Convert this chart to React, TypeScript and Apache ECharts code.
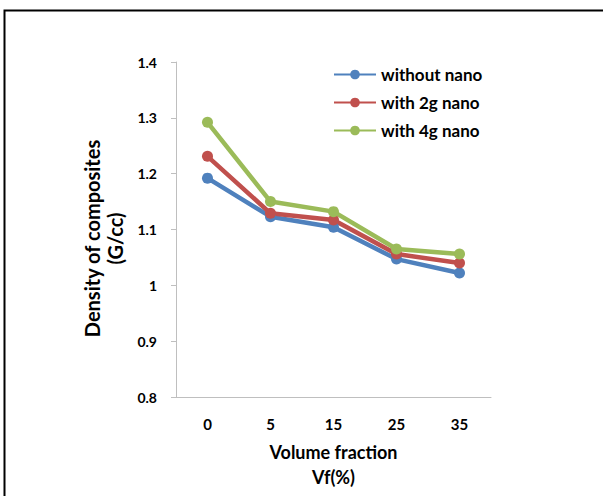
import React, { useEffect, useRef } from "react";
import * as echarts from "echarts";

const categories = ["0", "5", "15", "25", "35"];
const withoutNano = [1.192, 1.123, 1.104, 1.047, 1.022];
const with2gNano = [1.231, 1.129, 1.117, 1.056, 1.04];
const with4gNano = [1.292, 1.15, 1.132, 1.065, 1.056];
const seriesNames = ["without nano", "with 2g nano", "with 4g nano"];
const colors = ["#4F81BD", "#C0504D", "#9BBB59"];

const FONT = "Lato";

export default function App() {
  const ref = useRef<HTMLDivElement>(null);
  useEffect(() => {
    const chart = echarts.init(ref.current!, null, { renderer: "svg" });
    const data = [withoutNano, with2gNano, with4gNano];
    chart.setOption({
      animation: false,
      backgroundColor: "#ffffff",
      graphic: [
        {
          type: "rect",
          shape: { x: 4.5, y: 10.5, width: 700, height: 600 },
          style: { fill: "none", stroke: "#000", lineWidth: 2 },
          silent: true,
        },
      ],
      legend: {
        left: 328,
        top: 60,
        orient: "vertical",
        itemWidth: 42,
        itemHeight: 12,
        itemGap: 9,
        data: seriesNames,
        textStyle: { fontFamily: FONT, fontWeight: "bold", fontSize: 17, lineHeight: 19, color: "#000" },
      },
      grid: { left: 176, right: 112, top: 62, bottom: 99 },
      xAxis: {
        type: "category",
        data: categories,
        boundaryGap: true,
        axisLine: { lineStyle: { color: "#bfbfbf", width: 1 } },
        axisTick: { show: false },
        axisLabel: { fontFamily: FONT, fontWeight: "bold", fontSize: 15, color: "#000", margin: 19 },
        name: "Volume fraction\nVf(%)",
        nameLocation: "middle",
        nameGap: 42,
        nameTextStyle: { fontFamily: FONT, fontWeight: "bold", fontSize: 18, color: "#000", lineHeight: 25 },
      },
      yAxis: {
        type: "value",
        min: 0.8,
        max: 1.4,
        interval: 0.1,
        axisLine: { show: true, lineStyle: { color: "#bfbfbf", width: 1 } },
        axisTick: { show: true, length: 5, lineStyle: { color: "#bfbfbf" } },
        splitLine: { show: false },
        axisLabel: {
          fontFamily: FONT,
          fontWeight: "bold",
          fontSize: 14,
          color: "#000",
          margin: 19,
          formatter: (v: number) => String(Math.round(v * 10) / 10),
        },
        name: "Density of composites\n(G/cc)",
        nameLocation: "middle",
        nameRotate: 90,
        nameGap: 41,
        nameTextStyle: {
          fontFamily: FONT,
          fontWeight: "bold",
          fontSize: 20,
          color: "#000",
          lineHeight: 23,
          padding: [0, 18, 0, 0],
        },
      },
      series: seriesNames.map((n, i) => ({
        name: n,
        type: "line",
        data: data[i],
        symbol: "circle",
        symbolSize: 11,
        itemStyle: { color: colors[i] },
        lineStyle: { color: colors[i], width: 4.5 },
      })),
    });
    return () => chart.dispose();
  }, []);
  return (
    <div
      ref={ref}
      style={{ position: "absolute", left: 0, top: 0, width: 603, height: 496 }}
    />
  );
}
